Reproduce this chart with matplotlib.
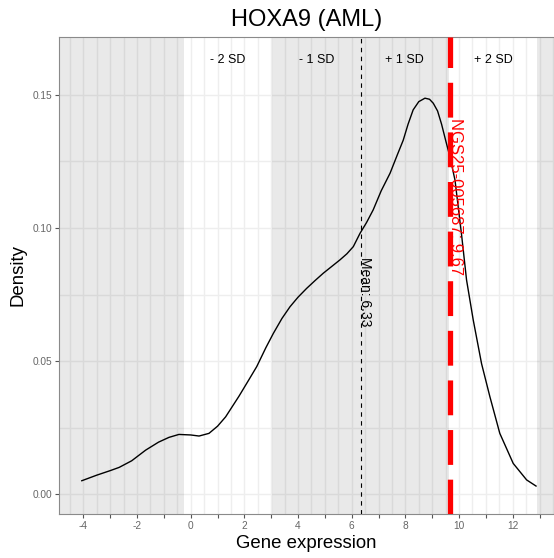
import numpy as np
from matplotlib import pyplot as plt
from matplotlib import rcParams

rcParams['font.family'] = ['Liberation Sans', 'DejaVu Sans']
rcParams['axes.unicode_minus'] = False   # plain hyphen on negative ticks

# Density estimate of expression across the cohort
expr_x = [-4.06, -3.5, -3.0, -2.67, -2.2, -1.68, -1.2, -0.81, -0.44, 0.0,
          0.31, 0.68, 1.0, 1.30, 1.80, 2.17, 2.46, 2.8, 3.08, 3.40,
          3.70, 4.0, 4.32, 4.64, 4.94, 5.25, 5.56, 5.82, 6.06, 6.31,
          6.55, 6.80, 7.10, 7.43, 7.70, 7.92, 8.10, 8.29, 8.50, 8.73,
          8.90, 9.04, 9.20, 9.35, 9.50, 9.66, 9.85, 10.10, 10.28, 10.53,
          10.84, 11.15, 11.52, 12.02, 12.52, 12.87]
density_y = [0.0050, 0.0071, 0.0088, 0.0100, 0.0125, 0.0165, 0.0195, 0.0213, 0.0224, 0.0222,
             0.0218, 0.0228, 0.0255, 0.0290, 0.0368, 0.0430, 0.0479, 0.0550, 0.0604, 0.0660,
             0.0704, 0.0740, 0.0773, 0.0803, 0.0830, 0.0855, 0.0880, 0.0903, 0.0930, 0.0980,
             0.1020, 0.1068, 0.1140, 0.1206, 0.1275, 0.1330, 0.1390, 0.1444, 0.1475, 0.1488,
             0.1484, 0.1469, 0.1440, 0.1390, 0.1330, 0.1268, 0.1180, 0.0970, 0.0805, 0.0654,
             0.0490, 0.0366, 0.0228, 0.0115, 0.0053, 0.0030]

gene = 'HOXA9'
cohort = 'AML'
mean_expr = 6.33
sd_expr = 3.29
sample_id = 'NGS25-005687'
sample_expr = 9.67
sd_labels = ['- 2 SD', '- 1 SD', '+ 1 SD', '+ 2 SD']

xlim = (-4.91, 13.54)
ylim = (-0.0075, 0.1718)

fig = plt.figure(figsize=(5.54, 5.58), dpi=100)
ax = fig.add_axes([0.1065, 0.0789, 0.8935, 0.8548])
ax.set_xlim(xlim)
ax.set_ylim(ylim)

# grid lines underneath everything
ax.set_axisbelow(True)
ax.set_xticks(np.arange(-4, 14, 1))
ax.set_xticklabels([str(v) if v % 2 == 0 else '' for v in range(-4, 14)])
ax.set_xticks(np.arange(-4.5, 13.6, 0.5), minor=True)
ax.set_yticks([0.0, 0.05, 0.10, 0.15])
ax.set_yticklabels(['0.00', '0.05', '0.10', '0.15'])
ax.set_yticks(np.arange(0.0, 0.17, 0.025), minor=True)
ax.grid(which='both', color='#EEEEEE', lw=1.0)
ax.tick_params(which='major', length=2.6, width=0.8, color='#555555',
               labelsize=7.3, labelcolor='#666666', pad=2.5)
ax.tick_params(which='minor', length=0)

for s in ax.spines.values():
    s.set_color('#8A8A8A')
    s.set_linewidth(0.8)
ax.spines['right'].set_visible(False)

# shaded bands outside / inside one SD
bands = [(xlim[0], mean_expr - 2 * sd_expr),
         (mean_expr - sd_expr, mean_expr + sd_expr),
         (mean_expr + 2 * sd_expr, xlim[1])]
for lo, hi in bands:
    ax.axvspan(lo, hi, color='black', alpha=0.085, lw=0, zorder=1)

# SD band labels
centres = [mean_expr - 1.5 * sd_expr, mean_expr - 0.5 * sd_expr,
           mean_expr + 0.5 * sd_expr, mean_expr + 1.5 * sd_expr]
for cx, lab in zip(centres, sd_labels):
    ax.text(cx, 0.1632, lab, ha='center', va='center', fontsize=9)

ax.plot(expr_x, density_y, color='black', lw=1.0, zorder=3)

# mean line
ax.axvline(mean_expr, color='black', lw=0.8, ls=(0, (4, 4)), zorder=3)
ax.text(mean_expr + 0.16, 0.076, 'Mean: %.2f' % mean_expr, rotation=-90,
        ha='center', va='center', fontsize=10, zorder=4)

# sample line
ax.axvline(sample_expr, color='#FF0000', lw=3.8, ls=(0, (6.6, 2.8)), zorder=4)
ax.text(sample_expr + 0.2, 0.112, '%s: %.2f' % (sample_id, sample_expr),
        rotation=-90, ha='center', va='center', fontsize=12, color='#FF0000', zorder=5)

ax.set_title('%s (%s)' % (gene, cohort), fontsize=17, pad=8)
ax.set_xlabel('Gene expression', fontsize=13.4, labelpad=3)
ax.set_ylabel('Density', fontsize=13.4, labelpad=4)

plt.savefig('out.png', dpi=100)
